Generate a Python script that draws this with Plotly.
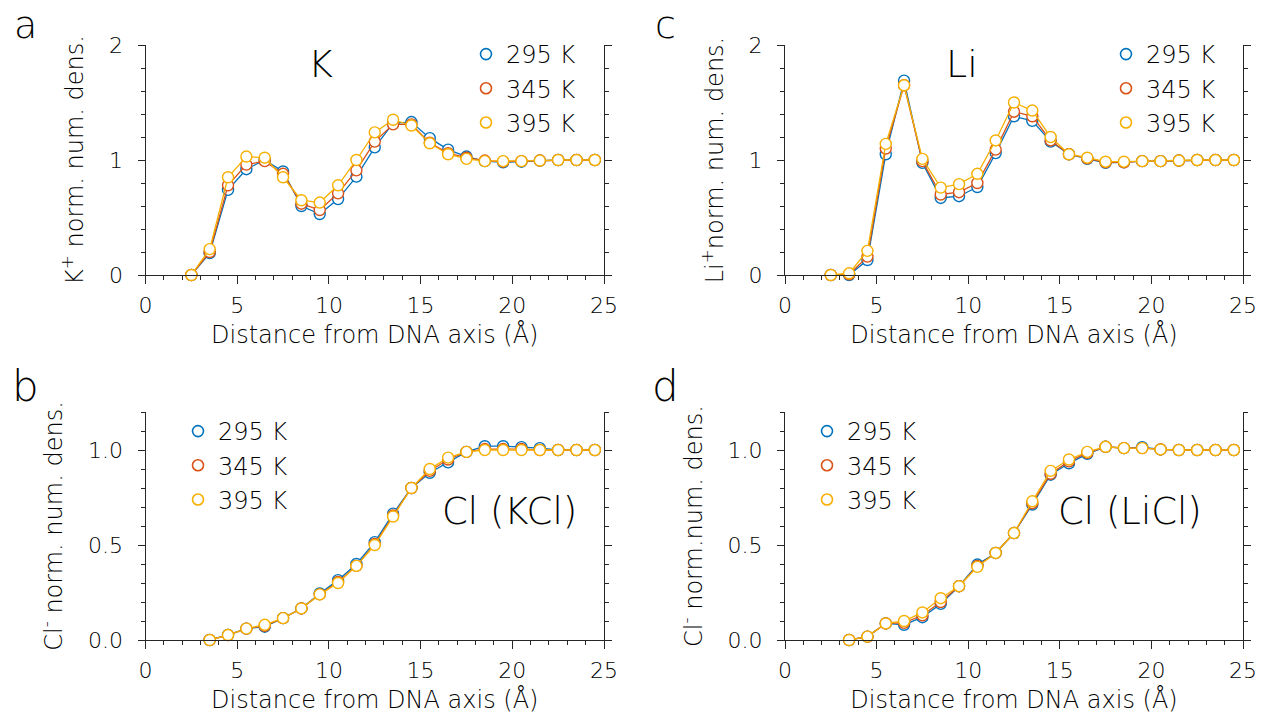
import plotly.graph_objects as go

# ---------------- data ----------------
r_cation = [2.5, 3.5, 4.5, 5.5, 6.5, 7.5, 8.5, 9.5, 10.5, 11.5, 12.5, 13.5,
            14.5, 15.5, 16.5, 17.5, 18.5, 19.5, 20.5, 21.5, 22.5, 23.5, 24.5]
r_anion = [3.5, 4.5, 5.5, 6.5, 7.5, 8.5, 9.5, 10.5, 11.5, 12.5, 13.5,
           14.5, 15.5, 16.5, 17.5, 18.5, 19.5, 20.5, 21.5, 22.5, 23.5, 24.5]
temps = ["295 K", "345 K", "395 K"]

K_295 = [0.00, 0.19, 0.74, 0.92, 1.00, 0.90, 0.60, 0.53, 0.66, 0.855, 1.11, 1.32,
         1.33, 1.19, 1.09, 1.03, 0.99, 0.98, 0.985, 0.995, 1.00, 1.00, 1.00]
K_345 = [0.00, 0.20, 0.78, 0.96, 0.99, 0.88, 0.62, 0.565, 0.71, 0.91, 1.16, 1.31,
         1.31, 1.15, 1.06, 1.02, 0.995, 0.985, 0.99, 0.995, 1.00, 1.00, 1.00]
K_395 = [0.00, 0.225, 0.85, 1.03, 1.02, 0.85, 0.65, 0.63, 0.78, 1.00, 1.24, 1.35,
         1.30, 1.145, 1.05, 1.01, 0.99, 0.99, 0.99, 0.995, 1.00, 1.00, 1.00]

Li_295 = [0.00, 0.00, 0.13, 1.05, 1.69, 0.975, 0.67, 0.685, 0.765, 1.06, 1.38, 1.34,
          1.16, 1.05, 1.01, 0.975, 0.98, 0.99, 0.99, 0.995, 1.00, 1.00, 1.00]
Li_345 = [0.00, 0.005, 0.16, 1.10, 1.65, 0.99, 0.70, 0.72, 0.80, 1.09, 1.42, 1.38,
          1.17, 1.05, 1.015, 0.98, 0.98, 0.99, 0.99, 0.995, 1.00, 1.00, 1.00]
Li_395 = [0.00, 0.015, 0.21, 1.14, 1.65, 1.01, 0.76, 0.79, 0.88, 1.17, 1.50, 1.43,
          1.20, 1.05, 1.02, 0.985, 0.985, 0.99, 0.99, 0.995, 1.00, 1.00, 1.00]

ClK_295 = [0.00, 0.027, 0.06, 0.07, 0.115, 0.166, 0.245, 0.315, 0.40, 0.515, 0.665,
           0.80, 0.88, 0.935, 0.99, 1.02, 1.02, 1.015, 1.01, 1.00, 1.00, 1.00]
ClK_345 = [0.00, 0.026, 0.06, 0.075, 0.115, 0.166, 0.24, 0.305, 0.39, 0.505, 0.655,
           0.80, 0.89, 0.95, 0.99, 1.005, 1.005, 1.005, 1.00, 1.00, 1.00, 1.00]
ClK_395 = [0.00, 0.026, 0.06, 0.08, 0.115, 0.166, 0.24, 0.30, 0.39, 0.50, 0.65,
           0.80, 0.90, 0.96, 0.99, 1.00, 1.00, 1.00, 1.00, 1.00, 1.00, 1.00]

ClL_295 = [0.00, 0.018, 0.087, 0.08, 0.12, 0.19, 0.283, 0.397, 0.458, 0.563, 0.713,
           0.87, 0.93, 0.98, 1.017, 1.01, 1.015, 1.003, 1.00, 1.00, 1.00, 1.00]
ClL_345 = [0.00, 0.018, 0.087, 0.09, 0.13, 0.20, 0.283, 0.39, 0.458, 0.563, 0.72,
           0.875, 0.94, 0.985, 1.017, 1.01, 1.01, 1.003, 1.00, 1.00, 1.00, 1.00]
ClL_395 = [0.00, 0.018, 0.087, 0.10, 0.145, 0.22, 0.283, 0.385, 0.458, 0.563, 0.73,
           0.89, 0.95, 0.99, 1.017, 1.01, 1.01, 1.003, 1.00, 1.00, 1.00, 1.00]

colors = ["#0072BD", "#D95319", "#F7B000"]

FONT = "DejaVu Sans"
WEIGHT = 300
TXT = "#000000"
LINE = "#262626"
W, H = 1262, 719

panels = [
    ("x", "y", "legend", r_cation, [K_295, K_345, K_395]),
    ("x2", "y2", "legend2", r_anion, [ClK_295, ClK_345, ClK_395]),
    ("x3", "y3", "legend3", r_cation, [Li_295, Li_345, Li_395]),
    ("x4", "y4", "legend4", r_anion, [ClL_295, ClL_345, ClL_395]),
]

fig = go.Figure()
for xa, ya, lg, xs, series in panels:
    for name, col, ys in zip(temps, colors, series):
        fig.add_trace(go.Scatter(
            x=xs, y=ys, xaxis=xa, yaxis=ya, mode="lines+markers",
            line=dict(color=col, width=1.3),
            marker=dict(symbol="circle", size=11, color="white",
                        line=dict(color=col, width=1.4)),
            cliponaxis=False, showlegend=False, name=name))
    for name, col in zip(temps, colors):
        fig.add_trace(go.Scatter(
            x=[None], y=[None], xaxis=xa, yaxis=ya, mode="markers",
            marker=dict(symbol="circle", size=11, color="white",
                        line=dict(color=col, width=1.6)),
            name=name, legend=lg, showlegend=True))

xl = [145.5 / W, 604 / W]
xr = [785 / W, 1243 / W]
yt = [1 - 275 / H, 1 - 45 / H]
yb = [1 - 640 / H, 1 - 412 / H]


def f(size, color=TXT):
    return dict(family=FONT, size=size, color=color, weight=WEIGHT)


def xaxis(dom, anchor):
    return dict(domain=dom, anchor=anchor, range=[0, 25], tickvals=[0, 5, 10, 15, 20, 25],
                ticks="outside", ticklen=8, tickwidth=1, tickcolor=LINE,
                showline=True, linecolor=LINE, linewidth=1, mirror=False,
                showgrid=False, zeroline=False, automargin=False,
                ticklabelstandoff=3,
                minor=dict(dtick=1, ticks="outside", ticklen=4, tickcolor=LINE, showgrid=False),
                tickfont=f(22),
                title=dict(text="Distance from DNA axis (Å)", standoff=8, font=f(24)))


def yaxis(dom, anchor, rng, dtick, mdt, fmt, title):
    return dict(domain=dom, anchor=anchor, range=rng, dtick=dtick, tick0=0, tickformat=fmt,
                ticks="outside", ticklen=7, tickwidth=1, tickcolor=LINE,
                showline=True, linecolor=LINE, linewidth=1, mirror="ticks",
                showgrid=False, zeroline=False, automargin=False,
                ticklabelstandoff=10,
                minor=dict(dtick=mdt, tick0=0, ticks="outside", ticklen=4, tickcolor=LINE, showgrid=False),
                tickfont=f(22),
                title=dict(text=title, standoff=18, font=f(24)))


def legend(x, y):
    return dict(x=x / W, y=1 - y / H, xanchor="left", yanchor="top",
                bgcolor="rgba(0,0,0,0)", font=f(24),
                itemclick=False, itemdoubleclick=False, tracegroupgap=0)


annos = []


def note(text, x, y, size):
    annos.append(dict(text=text, x=x / W, y=1 - y / H, xref="paper", yref="paper",
                      showarrow=False, xanchor="center", yanchor="middle",
                      font=f(size, "black")))


note("K", 320, 64, 38)
note("Li", 962, 64, 38)
note("Cl (KCl)", 509, 511, 37)
note("Cl (LiCl)", 1130, 511, 37)
note("a", 25, 25, 38)
note("b", 25, 386, 42)
note("c", 665, 25, 38)
note("d", 665, 386, 42)

fig.update_layout(
    width=W, height=H, margin=dict(l=0, r=0, t=0, b=0, autoexpand=False),
    paper_bgcolor="white", plot_bgcolor="white",
    font=f(22),
    xaxis=xaxis(xl, "y"), yaxis=yaxis(yt, "x", [0, 2], 1, 0.2, "d", "K<sup>+</sup> norm. num. dens."),
    xaxis2=xaxis(xl, "y2"), yaxis2=yaxis(yb, "x2", [0, 1.2], 0.5, 0.1, ".1f", "Cl<sup>-</sup> norm. num. dens."),
    xaxis3=xaxis(xr, "y3"), yaxis3=yaxis(yt, "x3", [0, 2], 1, 0.2, "d", "Li<sup>+</sup>norm. num. dens."),
    xaxis4=xaxis(xr, "y4"), yaxis4=yaxis(yb, "x4", [0, 1.2], 0.5, 0.1, ".1f", "Cl<sup>-</sup> norm.num. dens."),
    legend=legend(466, 32), legend2=legend(178, 409),
    legend3=legend(1106, 32), legend4=legend(807, 409),
    annotations=annos,
)

fig.write_html("out.html")
